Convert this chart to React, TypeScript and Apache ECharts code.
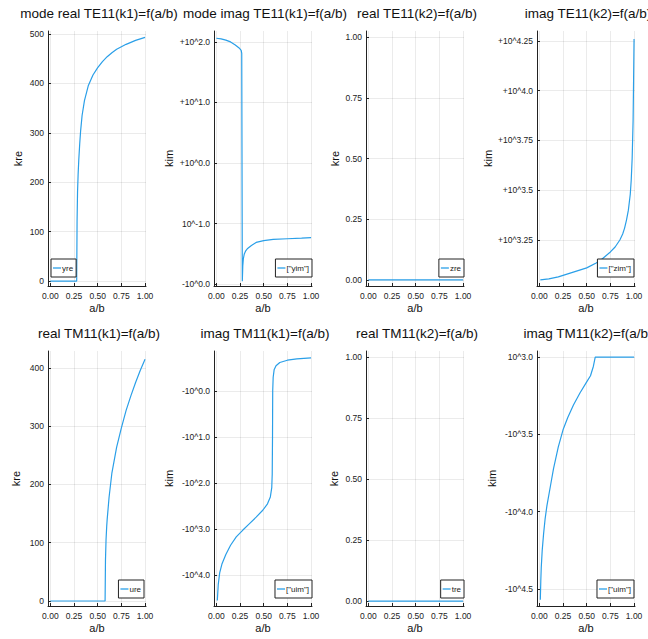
import React, { useEffect, useRef } from "react";
import * as echarts from "echarts";

const FONT = "'Liberation Sans', Arial, Helvetica, sans-serif";
const LINE_COLOR = "#2A9FE8";

// ---- titles / names ----
const titles = [
  "mode real TE11(k1)=f(a/b)",
  "mode imag TE11(k1)=f(a/b)",
  "real TE11(k2)=f(a/b)",
  "imag TE11(k2)=f(a/b)",
  "real TM11(k1)=f(a/b)",
  "imag TM11(k1)=f(a/b)",
  "real TM11(k2)=f(a/b)",
  "imag TM11(k2)=f(a/b)",
];
const yNames = ["kre", "kim", "kre", "kim", "kre", "kim", "kre", "kim"];
const legendNames = ["yre", '["yim"]', "zre", '["zim"]', "ure", '["uim"]', "tre", '["uim"]'];

// ---- x ticks (shared) ----
const xTicks = [0, 0.25, 0.5, 0.75, 1];
const xTickLabels = ["0.00", "0.25", "0.50", "0.75", "1.00"];

// ---- y ticks per panel (plot-space positions and their labels) ----
const yTicks1 = [0, 100, 200, 300, 400, 500];
const yLabels1 = ["0", "100", "200", "300", "400", "500"];
const yTicks2 = [2, 1, 0, -1, -2];
const yLabels2 = ["+10^2.0", "+10^1.0", "+10^0.0", "10^-1.0", "-10^0.0"];
const yTicks3 = [0, 0.25, 0.5, 0.75, 1];
const yLabels3 = ["0.00", "0.25", "0.50", "0.75", "1.00"];
const yTicks4 = [3.25, 3.5, 3.75, 4.0, 4.25];
const yLabels4 = ["+10^3.25", "+10^3.5", "+10^3.75", "+10^4.0", "+10^4.25"];
const yTicks5 = [0, 100, 200, 300, 400];
const yLabels5 = ["0", "100", "200", "300", "400"];
const yTicks6 = [0, -1, -2, -3, -4];
const yLabels6 = ["-10^0.0", "-10^1.0", "-10^2.0", "-10^3.0", "-10^4.0"];
const yTicks7 = [0, 0.25, 0.5, 0.75, 1];
const yLabels7 = ["0.00", "0.25", "0.50", "0.75", "1.00"];
const yTicks8 = [-3.0, -3.5, -4.0, -4.5];
const yLabels8 = ["10^3.0", "-10^3.5", "-10^4.0", "-10^4.5"];

// ---- series values [a/b, k] ----
const teK1Re: [number, number][] = [
  [0, 0], [0.1, 0], [0.2, 0], [0.278, 0], [0.282, 120], [0.287, 180], [0.293, 215],
  [0.3, 245], [0.31, 278], [0.32, 305], [0.335, 335], [0.36, 365], [0.4, 395],
  [0.45, 417], [0.5, 432], [0.55, 444], [0.6, 454], [0.65, 462], [0.7, 469],
  [0.8, 479], [0.9, 487], [1.0, 493],
];
const teK1Im: [number, number][] = [
  [0, 2.06], [0.05, 2.05], [0.1, 2.03], [0.15, 2.0], [0.2, 1.95], [0.24, 1.9],
  [0.262, 1.86], [0.268, 1.81], [0.274, -1.95], [0.279, -1.7], [0.285, -1.58],
  [0.295, -1.5], [0.31, -1.45], [0.33, -1.41], [0.37, -1.36], [0.42, -1.31],
  [0.5, -1.28], [0.6, -1.26], [0.75, -1.25], [0.9, -1.24], [1.0, -1.23],
];
const teK2Re: [number, number][] = [
  [0, 0], [0.25, 0], [0.5, 0], [0.75, 0], [1.0, 0],
];
const teK2Im: [number, number][] = [
  [0.01, 3.05], [0.1, 3.055], [0.2, 3.065], [0.3, 3.08], [0.4, 3.095], [0.5, 3.11],
  [0.6, 3.135], [0.65, 3.15], [0.7, 3.17], [0.75, 3.19], [0.8, 3.215], [0.85, 3.25],
  [0.88, 3.28], [0.9, 3.31], [0.92, 3.35], [0.94, 3.4], [0.96, 3.48], [0.97, 3.55],
  [0.98, 3.66], [0.99, 3.85], [0.995, 4.05], [1.0, 4.26],
];
const tmK1Re: [number, number][] = [
  [0, 0], [0.2, 0], [0.4, 0], [0.578, 0], [0.582, 70], [0.588, 105], [0.595, 128],
  [0.6, 140], [0.62, 178], [0.65, 220], [0.7, 264], [0.75, 297], [0.8, 327],
  [0.85, 352], [0.9, 375], [0.95, 396], [1.0, 415],
];
const tmK1Im: [number, number][] = [
  [0.01, -4.55], [0.02, -4.2], [0.035, -3.95], [0.06, -3.75], [0.1, -3.55],
  [0.15, -3.35], [0.21, -3.17], [0.28, -3.02], [0.35, -2.88], [0.42, -2.74],
  [0.49, -2.59], [0.54, -2.45], [0.57, -2.3], [0.585, -2.1], [0.59, -1.8],
  [0.593, -1.0], [0.595, 0.0], [0.6, 0.3], [0.61, 0.46], [0.63, 0.55], [0.67, 0.62],
  [0.75, 0.67], [0.85, 0.7], [1.0, 0.72],
];
const tmK2Re: [number, number][] = [
  [0, 0], [0.25, 0], [0.5, 0], [0.75, 0], [1.0, 0],
];
const tmK2Im: [number, number][] = [
  [0.01, -4.57], [0.015, -4.45], [0.02, -4.36], [0.03, -4.25], [0.045, -4.14],
  [0.06, -4.05], [0.08, -3.96], [0.115, -3.84], [0.15, -3.72], [0.2, -3.58],
  [0.25, -3.47], [0.3, -3.39], [0.36, -3.31], [0.43, -3.23], [0.5, -3.16],
  [0.54, -3.12], [0.57, -3.06], [0.59, -3.0], [0.7, -3.0], [0.85, -3.0], [1.0, -3.0],
];

const seriesData = [teK1Re, teK1Im, teK2Re, teK2Im, tmK1Re, tmK1Im, tmK2Re, tmK2Im];
const yTickSets = [yTicks1, yTicks2, yTicks3, yTicks4, yTicks5, yTicks6, yTicks7, yTicks8];
const yLabelSets = [yLabels1, yLabels2, yLabels3, yLabels4, yLabels5, yLabels6, yLabels7, yLabels8];
const yLimits: [number, number][] = [
  [-10, 506], [-2.03, 2.18], [-0.025, 1.025], [3.019, 4.3],
  [-8.6, 429], [-4.67, 0.87], [-0.02, 1.025], [-4.61, -2.96],
];

// ---- layout (not data) ----
const colLeft = [48, 214, 366, 537];
const rowTop = [31, 351];
const plotW = 98;
const plotH = 255;
const yNameGaps = [25, 40, 26, 44, 27, 40, 27, 40];
const legendPos: any[] = [
  { left: 51, top: 259 },
  { right: 336, top: 259 },
  { right: 184, top: 259 },
  { right: 14, top: 259 },
  { right: 504, top: 580 },
  { right: 336, top: 580 },
  { right: 184, top: 580 },
  { right: 14, top: 580 },
];

function labelFor(ticks: number[], labels: string[]) {
  return (v: number) => {
    const i = ticks.findIndex((t) => Math.abs(t - v) < 1e-6);
    return i >= 0 ? labels[i] : "";
  };
}

export default function App() {
  const ref = useRef<HTMLDivElement>(null);
  useEffect(() => {
    if (!ref.current) return;
    const chart = echarts.init(ref.current, undefined, { renderer: "svg" });
    const grids: any[] = [];
    const xAxes: any[] = [];
    const yAxes: any[] = [];
    const series: any[] = [];
    const legends: any[] = [];
    const titleOpts: any[] = [];
    for (let i = 0; i < 8; i++) {
      const col = i % 4;
      const row = Math.floor(i / 4);
      const left = colLeft[col];
      const top = rowTop[row];
      grids.push({ left, top, width: plotW, height: plotH });
      titleOpts.push({
        text: titles[i],
        left: left + plotW / 2 + 2,
        top: top - 25,
        textAlign: "center",
        padding: 0,
        textStyle: { fontFamily: FONT, fontSize: 13.5, fontWeight: "normal", color: "#111" },
      });
      xAxes.push({
        gridIndex: i,
        type: "value",
        min: -0.025,
        max: 1.01,
        name: "a/b",
        nameLocation: "middle",
        nameGap: 16,
        nameTextStyle: { fontFamily: FONT, fontSize: 11, color: "#111" },
        axisLine: { show: true, onZero: false, lineStyle: { color: "#222", width: 1 } },
        axisTick: { show: true, inside: true, length: 3, customValues: xTicks, lineStyle: { color: "#222" } },
        axisLabel: {
          customValues: xTicks,
          formatter: labelFor(xTicks, xTickLabels),
          fontFamily: FONT,
          fontSize: 8.5,
          color: "#222",
          margin: 5,
        },
        splitLine: { show: true, lineStyle: { color: "rgba(0,0,0,0.08)", width: 1 } },
      });
      yAxes.push({
        gridIndex: i,
        type: "value",
        min: yLimits[i][0],
        max: yLimits[i][1],
        name: yNames[i],
        nameLocation: "middle",
        nameGap: yNameGaps[i],
        nameTextStyle: { fontFamily: FONT, fontSize: 11, color: "#111" },
        axisLine: { show: true, onZero: false, lineStyle: { color: "#222", width: 1 } },
        axisTick: { show: true, inside: true, length: 3, customValues: yTickSets[i], lineStyle: { color: "#222" } },
        axisLabel: {
          customValues: yTickSets[i],
          formatter: labelFor(yTickSets[i], yLabelSets[i]),
          fontFamily: FONT,
          fontSize: 8.5,
          color: "#222",
          margin: 4,
        },
        splitLine: { show: true, lineStyle: { color: "rgba(0,0,0,0.08)", width: 1 } },
      });
      series.push({
        type: "line",
        name: legendNames[i],
        xAxisIndex: i,
        yAxisIndex: i,
        data: seriesData[i],
        symbol: "none",
        showSymbol: false,
        clip: true,
        lineStyle: { color: LINE_COLOR, width: 1.2 },
        itemStyle: { color: LINE_COLOR },
      });
      legends.push({
        ...legendPos[i],
        data: [legendNames[i]],
        selectedMode: false,
        orient: "horizontal",
        icon: "rect",
        padding: [5, 3, 5, 2],
        itemWidth: 8,
        itemHeight: 1.3,
        itemGap: 0,
        borderColor: "#222",
        borderWidth: 1,
        borderRadius: 0,
        backgroundColor: "#fff",
        itemStyle: { color: LINE_COLOR },
        textStyle: { fontFamily: FONT, fontSize: 8, color: "#222", padding: [0, 0, 0, -4] },
      });
    }
    chart.setOption({
      animation: false,
      backgroundColor: "#fff",
      title: titleOpts,
      grid: grids,
      xAxis: xAxes,
      yAxis: yAxes,
      legend: legends,
      series,
    });
    return () => chart.dispose();
  }, []);
  return (
    <div
      ref={ref}
      style={{ position: "absolute", left: 0, top: 0, width: 648, height: 639, background: "#fff" }}
    />
  );
}
